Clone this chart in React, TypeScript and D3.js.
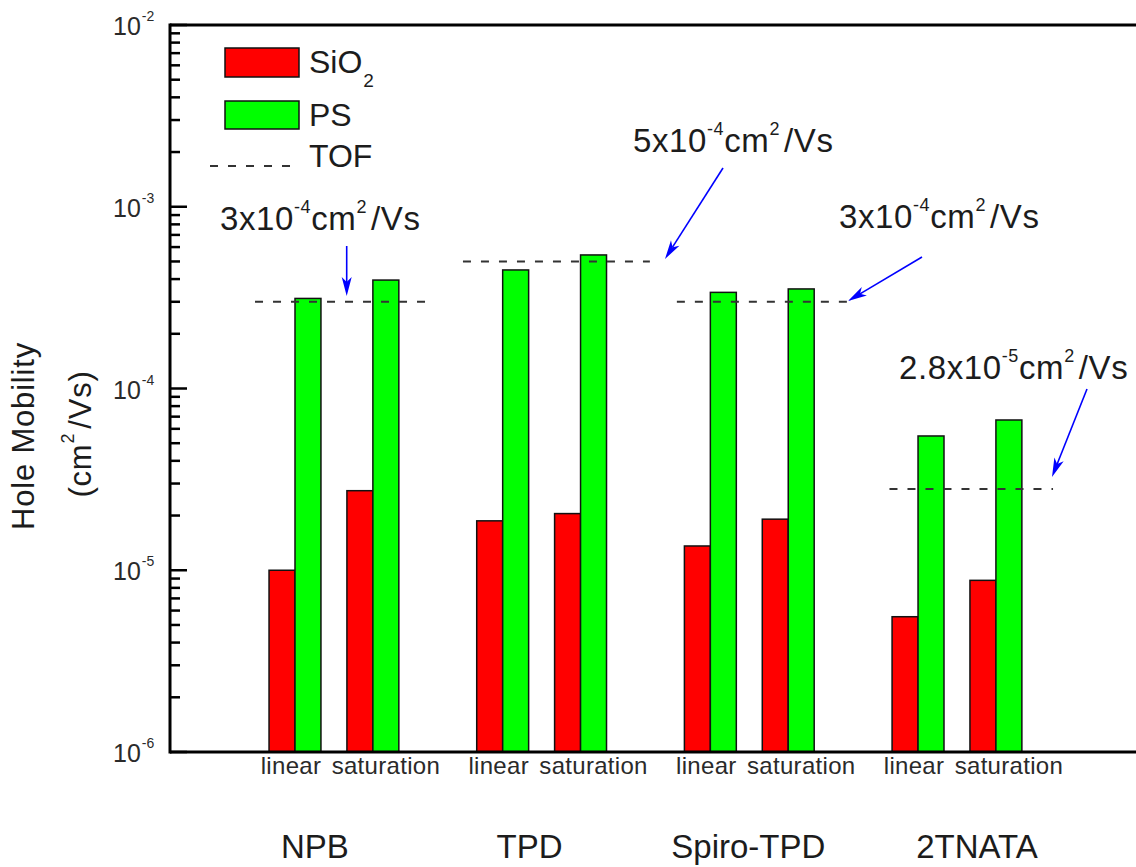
import React from "react";
import * as d3 from "d3";

// ---- data ----
const groups = ["NPB", "TPD", "Spiro-TPD", "2TNATA"];
const modes = ["linear", "saturation"];
const sio2Linear = [1.0e-5, 1.87e-5, 1.36e-5, 5.55e-6];
const sio2Saturation = [2.74e-5, 2.05e-5, 1.91e-5, 8.8e-6];
const psLinear = [3.13e-4, 4.49e-4, 3.38e-4, 5.48e-5];
const psSaturation = [3.95e-4, 5.43e-4, 3.53e-4, 6.71e-5];
const tofValues = [3e-4, 5e-4, 3e-4, 2.8e-5];
const tofMantissa = ["3", "5", "3", "2.8"];
const tofExponent = ["-4", "-4", "-4", "-5"];
const yTickExponents = [-2, -3, -4, -5, -6];

// ---- layout ----
const W = 1136;
const H = 867;
const PLOT_LEFT = 170;
const PLOT_TOP = 25;
const PLOT_BOTTOM = 752;
const UNIT = 25.96; // one bar width in px
const FONT = "'Liberation Sans', Arial, Helvetica, sans-serif";
const TEXT = "#1c1c1c";
const RED = "#ff0000";
const GREEN = "#00ff00";

// slot (in bar widths) of each pair centre: groups 8 apart, modes 3 apart
const slot = (g: number, m: number) => g * 8 + m * 3;

const x = d3
  .scaleLinear()
  .domain([-4.815, 33.5])
  .range([PLOT_LEFT, PLOT_LEFT + 38.315 * UNIT]);
const y = d3.scaleLog().domain([1e-6, 1e-2]).range([PLOT_BOTTOM, PLOT_TOP]);

// reach of each dashed TOF line relative to its linear / saturation pair
const tofSpan: [number, number][] = [
  [-1.54, 2.2],
  [-1.53, 2.67],
  [-1.29, 2.3],
  [-1.1, 2.2],
];

// annotation text anchors and arrows (pixel space)
const annoText = [
  { x: 220, y: 230 },
  { x: 633, y: 152 },
  { x: 839, y: 228 },
  { x: 899, y: 379 },
];
const annoArrow = [
  { x1: 346.7, y1: 246, x2: 346.7, y2: 296 },
  { x1: 723, y1: 168, x2: 665, y2: 259 },
  { x1: 922, y1: 257, x2: 848, y2: 301 },
  { x1: 1087, y1: 389, x2: 1052, y2: 477 },
];

const groupLabelNudge = [-19, -12, -1, 20];
const modeLabelNudge = [-4, 13];

function Arrow({ x1, y1, x2, y2 }: { x1: number; y1: number; x2: number; y2: number }) {
  const ang = Math.atan2(y2 - y1, x2 - x1);
  const len = 19;
  const half = 5;
  const notch = 5;
  const ux = Math.cos(ang);
  const uy = Math.sin(ang);
  const bx = x2 - ux * len;
  const by = y2 - uy * len;
  const nx = x2 - ux * (len - notch);
  const ny = y2 - uy * (len - notch);
  const px = -uy;
  const py = ux;
  const head = [
    [x2, y2],
    [bx + px * half, by + py * half],
    [nx, ny],
    [bx - px * half, by - py * half],
  ]
    .map((p) => p.join(","))
    .join(" ");
  return (
    <g>
      <line x1={x1} y1={y1} x2={nx} y2={ny} stroke="#0000ff" strokeWidth={1.6} />
      <polygon points={head} fill="#0000ff" />
    </g>
  );
}

export default function App() {
  const bars: { key: string; x0: number; x1: number; v: number; fill: string }[] = [];
  groups.forEach((_, g) => {
    modes.forEach((__, m) => {
      const s = slot(g, m);
      const red = m === 0 ? sio2Linear[g] : sio2Saturation[g];
      const green = m === 0 ? psLinear[g] : psSaturation[g];
      bars.push({ key: `r${g}${m}`, x0: x(s - 1), x1: x(s), v: red, fill: RED });
      bars.push({ key: `g${g}${m}`, x0: x(s), x1: x(s + 1), v: green, fill: GREEN });
    });
  });

  const majorTicks = yTickExponents.map((e) => Math.pow(10, e));
  const minorTicks: number[] = [];
  for (let e = -6; e < -2; e++) {
    for (let k = 2; k <= 9; k++) minorTicks.push(k * Math.pow(10, e));
  }

  return (
    <svg
      width={W}
      height={H}
      style={{ position: "absolute", left: 0, top: 0, background: "#fff" }}
      fontFamily={FONT}
    >
      <rect width={W} height={H} fill="#fff" />

      {/* bars */}
      {bars.map((b) => (
        <rect
          key={b.key}
          x={b.x0}
          y={y(b.v)}
          width={b.x1 - b.x0}
          height={PLOT_BOTTOM - y(b.v)}
          fill={b.fill}
          stroke="#111"
          strokeWidth={1.5}
        />
      ))}

      {/* TOF reference lines */}
      {tofValues.map((v, g) => (
        <line
          key={`tof${g}`}
          x1={x(slot(g, 0) + tofSpan[g][0])}
          x2={x(slot(g, 1) + tofSpan[g][1])}
          y1={y(v)}
          y2={y(v)}
          stroke="#333"
          strokeWidth={2}
          strokeDasharray="8,10"
        />
      ))}

      {/* annotations */}
      {tofValues.map((_, g) => (
        <g key={`anno${g}`}>
          <text x={annoText[g].x} y={annoText[g].y} fontSize={33} fill={TEXT} letterSpacing={0.6}>
            {tofMantissa[g]}x10
            <tspan fontSize={18} dy={-17}>
              {tofExponent[g]}
            </tspan>
            <tspan dy={17}>cm</tspan>
            <tspan fontSize={18} dy={-17}>
              2
            </tspan>
            <tspan dy={17} dx={4}>
              /Vs
            </tspan>
          </text>
          <Arrow {...annoArrow[g]} />
        </g>
      ))}

      {/* axes frame */}
      <line x1={PLOT_LEFT} x2={W + 10} y1={PLOT_TOP} y2={PLOT_TOP} stroke="#000" strokeWidth={3} />
      <line x1={PLOT_LEFT} x2={W + 10} y1={PLOT_BOTTOM} y2={PLOT_BOTTOM} stroke="#000" strokeWidth={3} />
      <line x1={PLOT_LEFT} x2={PLOT_LEFT} y1={PLOT_TOP - 1.5} y2={PLOT_BOTTOM + 1.5} stroke="#000" strokeWidth={3} />

      {/* y ticks */}
      {minorTicks.map((t, i) => (
        <line key={`mn${i}`} x1={PLOT_LEFT} x2={PLOT_LEFT + 10} y1={y(t)} y2={y(t)} stroke="#000" strokeWidth={2.5} />
      ))}
      {majorTicks.map((t, i) => (
        <line key={`mj${i}`} x1={PLOT_LEFT} x2={PLOT_LEFT + 17} y1={y(t)} y2={y(t)} stroke="#000" strokeWidth={2.5} />
      ))}
      {yTickExponents.map((e, i) => (
        <text key={`yl${i}`} x={113} y={y(Math.pow(10, e)) + 10} fontSize={25} fill="#2a2a2a">
          10
          <tspan fontSize={14} dy={-14} dx={1}>
            {String(e).replace("-", "-")}
          </tspan>
        </text>
      ))}

      {/* y title */}
      <text transform="translate(34,436) rotate(-90)" textAnchor="middle" fontSize={31} fill={TEXT} letterSpacing={0.8}>
        Hole Mobility
      </text>
      <text transform="translate(91,434) rotate(-90)" textAnchor="middle" fontSize={31} fill={TEXT} letterSpacing={0.8}>
        (cm
        <tspan fontSize={18} dy={-17}>
          2
        </tspan>
        <tspan dy={17} dx={4}>
          /Vs)
        </tspan>
      </text>

      {/* category labels */}
      {groups.map((name, g) => (
        <g key={`gl${g}`}>
          {modes.map((mode, m) => (
            <text
              key={mode}
              x={x(slot(g, m)) + modeLabelNudge[m]}
              y={774}
              textAnchor="middle"
              fontSize={24}
              fill="#2a2a2a"
              letterSpacing={0.3}
            >
              {mode}
            </text>
          ))}
          <text
            x={(x(slot(g, 0)) + x(slot(g, 1))) / 2 + groupLabelNudge[g]}
            y={858}
            textAnchor="middle"
            fontSize={33}
            fill={TEXT}
          >
            {name}
          </text>
        </g>
      ))}

      {/* legend */}
      <rect x={225} y={48} width={74} height={29} fill={RED} stroke="#111" strokeWidth={1.5} />
      <rect x={225} y={101} width={74} height={28} fill={GREEN} stroke="#111" strokeWidth={1.5} />
      <line x1={210} x2={299} y1={166} y2={166} stroke="#333" strokeWidth={2} strokeDasharray="8,10" />
      <text x={309} y={73} fontSize={32} fill={TEXT}>
        SiO
        <tspan fontSize={19} dy={14} dx={1}>
          2
        </tspan>
      </text>
      <text x={309} y={126} fontSize={32} fill={TEXT}>
        PS
      </text>
      <text x={309} y={167} fontSize={32} fill={TEXT}>
        TOF
      </text>
    </svg>
  );
}
